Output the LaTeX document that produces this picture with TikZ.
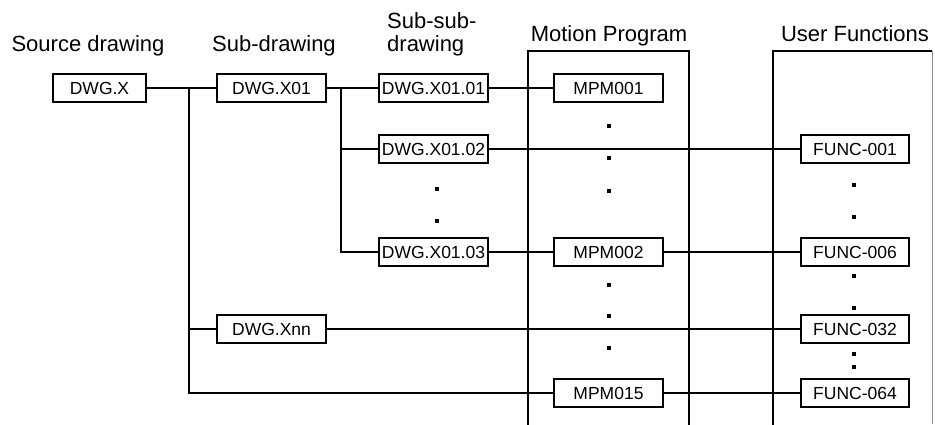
\documentclass[tikz,border=0pt]{standalone}
\usepackage{fontspec}
\setmainfont{Liberation Sans}
\begin{document}
\begin{tikzpicture}[x=1pt,y=-1pt,
  hdr/.style={font=\fontsize{22}{25}\selectfont, inner sep=0pt, anchor=base},
  box/.style={draw, line width=1.5pt, minimum width=109pt, minimum height=28pt, inner sep=0pt, font=\fontsize{17.5}{19}\selectfont},
  conn/.style={line width=1.4pt},
  panel/.style={line width=1.7pt},
  dotsq/.style={fill=black, draw=none, minimum size=3.8pt, inner sep=0pt}]
\useasboundingbox (0,0) rectangle (935,424);
% headers
\node[hdr] (h1) at (88,51) {Source drawing};
\node[hdr] (h2) at (274,51) {Sub-drawing};
\node[hdr, anchor=base west] (h3a) at (387,28) {Sub-sub-};
\node[hdr, anchor=base west] (h3b) at (387,51) {drawing};
\node[hdr] (h4) at (609,41) {Motion Program};
\node[hdr] (h5) at (855,41) {User Functions};
% panels
\draw[panel] (528,425) -- (528,51) -- (689,51) -- (689,425);
\draw[panel] (773,425) -- (773,51) -- (932,51);
\draw[line width=1pt, black!45] (932.5,51) -- (932.5,424);
% boxes
\node[box, minimum width=93pt] (X) at (99.5,88) {DWG.X};
\node[box] (X01) at (271.5,88) {DWG.X01};
\node[box] (Xnn) at (271.5,329) {DWG.Xnn};
\node[box] (X0101) at (433.5,88) {DWG.X01.01};
\node[box] (X0102) at (433.5,149) {DWG.X01.02};
\node[box] (X0103) at (433.5,252) {DWG.X01.03};
\node[box] (M1) at (608.5,88) {MPM001};
\node[box] (M2) at (608.5,252) {MPM002};
\node[box] (M15) at (608.5,393) {MPM015};
\node[box, minimum width=108pt] (F1) at (855,149) {FUNC-001};
\node[box, minimum width=108pt] (F6) at (855,252) {FUNC-006};
\node[box, minimum width=108pt] (F32) at (855,329) {FUNC-032};
\node[box, minimum width=108pt] (F64) at (855,393) {FUNC-064};
% junctions
\coordinate (j1) at (189,88);
\coordinate (j2) at (341,88);
% connectors
\draw[conn] (X.east) -- (X01.west);
\draw[conn] (j1) |- (M15.west);
\draw[conn] (j1 |- Xnn.west) -- (Xnn.west);
\draw[conn] (X01.east) -- (X0101.west);
\draw[conn] (j2) |- (X0103.west);
\draw[conn] (j2 |- X0102.west) -- (X0102.west);
\draw[conn] (X0101.east) -- (M1.west);
\draw[conn] (X0102.east) -- (F1.west);
\draw[conn] (X0103.east) -- (M2.west);
\draw[conn] (M2.east) -- (F6.west);
\draw[conn] (Xnn.east) -- (F32.west);
\draw[conn] (M15.east) -- (F64.west);
% dots
\foreach \y [count=\i] in {189,221} \node[dotsq] (da\i) at (437,\y) {};
\foreach \y [count=\i] in {126,158,191,285,316,348} \node[dotsq] (db\i) at (609,\y) {};
\foreach \y [count=\i] in {185,217,276,308,354,367} \node[dotsq] (dc\i) at (854,\y) {};
\end{tikzpicture}
\end{document}
